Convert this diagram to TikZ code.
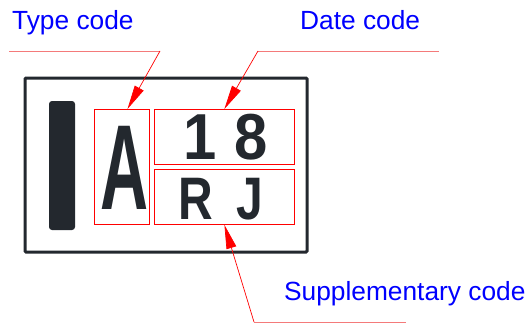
\documentclass[tikz,border=0pt]{standalone}
\usepackage{fontspec}
\setmainfont{Liberation Sans}
\usetikzlibrary{arrows.meta,calc}
\definecolor{plate}{HTML}{23282E}
\definecolor{leader}{HTML}{F47A7A}
\definecolor{labelblue}{HTML}{0000FF}
\tikzset{
	codebox/.style={draw=red, line width=0.8pt, inner sep=0pt, anchor=north west},
	codelabel/.style={text=labelblue, font=\fontsize{26.3}{26.3}\selectfont, inner sep=0pt, anchor=base west},
	marking/.style={text=plate, inner sep=0pt, anchor=base},
	pointer/.style={draw=red, line width=0.7pt, -{Triangle[length=24pt,width=10pt]}},
	shelf/.style={draw=leader, line width=1pt},
}

\begin{document}
\begin{tikzpicture}[x=1pt, y=-1pt]
		%%%%% START %%%%%
		\useasboundingbox (0, 0) rectangle (530, 324);
		
		% plate
		\draw[plate, line width=3pt, rounded corners=1pt] (25, 78) rectangle (307, 252);
		\fill[plate, rounded corners=3pt] (49, 101) rectangle (75, 230);
		
		% code fields
		\node[codebox, minimum width=55pt, minimum height=115pt] (typebox) at (94, 109) {};
		\node[codebox, minimum width=140pt, minimum height=55pt] (datebox) at (154, 109) {};
		\node[codebox, minimum width=140pt, minimum height=55pt] (suppbox) at (154, 169) {};
		
		\node[marking, font=\bfseries\fontsize{121}{121}\selectfont] (typechar) at (125, 209) {\scalebox{0.55}[1]{A}};
		\node[marking, font=\bfseries\fontsize{65}{65}\selectfont] (datechar) at (225.5, 159) {\scalebox{0.92}[1]{1\hspace{0.3em}8}};
		\node[marking, font=\bfseries\fontsize{60}{60}\selectfont] (suppchar) at (221, 219) {\scalebox{0.8}[1]{R\hspace{0.5em}J}};
		
		% labels
		\node[codelabel] (typelabel) at (12, 29) {Type code};
		\node[codelabel] (datelabel) at (300, 29) {Date code};
		\node[codelabel] (supplabel) at (284, 300) {Supplementary code};
		
		% leaders
		\coordinate (typebend) at (160, 51);
		\coordinate (typeend) at (9, 51);
		\draw[shelf] (typeend) -- (typebend);
		\draw[pointer] (typebend) -- ($(typebox.north west)!0.6!(typebox.north east)$);
		
		\coordinate (datebend) at (258, 51);
		\coordinate (dateend) at (439, 51);
		\draw[shelf] (datebend) -- (dateend);
		\draw[pointer] (datebend) -- (datebox.north);
		
		\coordinate (suppbend) at (254, 322);
		\coordinate (suppend) at (406, 322);
		\draw[shelf] (suppbend) -- (suppend);
		\draw[pointer] (suppbend) -- (suppbox.south);
		
		%%%%% END %%%%%
	\end{tikzpicture}
\end{document}
